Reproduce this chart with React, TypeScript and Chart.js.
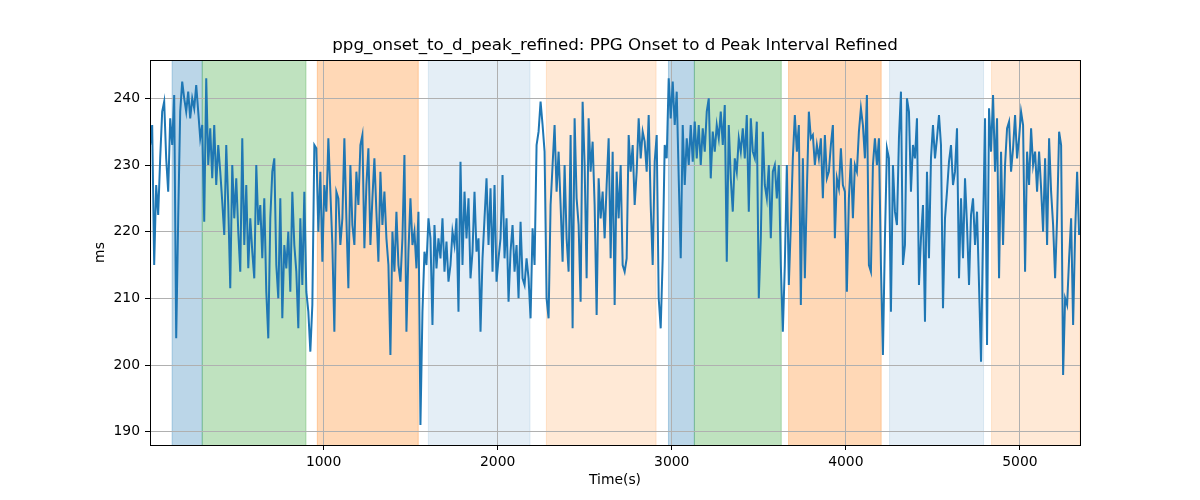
import { useEffect, useRef } from "react"
import { Chart, registerables, type Plugin } from "chart.js"

Chart.register(...registerables)

const FONT = "'DejaVu Sans', sans-serif"
const TITLE = "ppg_onset_to_d_peak_refined: PPG Onset to d Peak Interval Refined"

// sample clock of the series (seconds)
const T0 = 4
const DT = 11.5

// PPG onset to d-peak interval (ms)
const intervalMs = [
  // 0 - 530 s
  233, 236, 215, 227, 222.5, 231, 238, 239.5, 231, 226, 237, 233, 240.5, 204, 222, 238, 242.5, 240, 238, 241,
  237, 240, 238.5, 242, 238, 234, 236, 221.5, 243, 230, 235.5, 228, 236, 227, 233, 229, 224.5, 219.5, 233, 224,
  211.5, 230, 222, 228, 220, 214,
  // 530 - 1080 s
  234, 218, 227, 214.5, 222, 217, 213, 230, 221, 224, 216, 225, 211, 204, 222, 229, 231, 215, 210, 225,
  207, 218, 214.5, 220, 211, 226, 218, 214, 205.5, 222, 212, 226, 211, 208, 202, 209, 233, 232.5, 220, 229,
  215.5, 227, 223, 234, 226, 218, 205, 226,
  // 1080 - 1620 s
  225, 218, 222, 234, 222, 211.5, 230, 221, 218, 229, 224, 233, 234.5, 217.5, 227, 232.5, 218, 225, 231, 223,
  215.5, 229, 221, 226, 219, 215, 201.5, 220, 214, 223, 215, 212.5, 219, 231.5, 205, 217, 225, 218, 220, 214.5,
  223, 191, 208, 217, 215, 222, 219,
  // 1620 - 2170 s
  206, 221, 214.5, 219, 216, 222, 214, 218.5, 212.5, 215, 220, 218, 222, 208, 230.5, 215, 226, 219, 225, 213,
  217, 226, 217, 219, 205, 216, 222, 228, 218, 226.5, 214, 227, 212.5, 216, 219, 228.5, 216, 222, 209.5, 217,
  221, 214, 218, 210, 221.5, 213, 212, 216,
  // 2170 - 2720 s
  213, 207, 220.5, 215, 233, 235, 239.5, 236, 232, 210, 207, 224, 230, 236, 226, 232, 224, 215.5, 230, 219,
  214, 234.5, 205.5, 237, 225, 221, 209.5, 239.5, 230, 213, 237, 229, 233.5, 224, 207.5, 228, 222, 226, 219, 227,
  234, 216, 232, 209, 229, 222, 230, 215,
  // 2720 - 3260 s
  214, 216, 234.5, 229, 233, 224, 229, 237, 231, 235, 233.5, 229, 237.5, 224, 215, 230.5, 234.5, 210, 205.5, 216,
  233, 231, 243, 237, 242.5, 236, 241, 228, 216, 236, 227, 234, 230, 236, 230.5, 236.5, 231, 236, 230, 235.5,
  232, 238, 240, 228, 235, 232, 236,
  // 3260 - 3810 s
  234, 238, 233, 239, 215.5, 236, 228, 223, 231, 229, 234, 232, 235.5, 231, 237.5, 223, 237, 232, 231, 236.5,
  210, 219, 235, 227, 225, 230, 219, 229, 230, 225, 230, 215, 205, 215, 230, 212, 221, 231, 237.5, 232,
  236, 209, 231, 213, 226, 238, 234, 234.5,
  // 3810 - 4350 s
  230, 233, 231, 234, 225, 234.5, 228, 229, 233, 236, 219, 228, 226.5, 232.5, 227, 226, 211, 225, 231, 222,
  230, 229, 235, 238.5, 236, 231, 240.5, 215, 214, 230, 234, 230, 234, 215, 201.5, 219, 232.5, 231, 208, 230,
  223, 221, 234, 241, 215, 218, 240,
  // 4350 - 4900 s
  238, 226, 233, 231, 237, 212, 219, 224, 206.5, 229, 216, 231, 236, 231, 234, 237.5, 233, 208.5, 222, 226,
  230.5, 233, 227, 229, 235.5, 213, 225, 216, 228, 221, 212, 222.5, 225, 218, 223, 212, 200.5, 220, 237, 203,
  238.5, 232, 240.5, 229, 237, 213, 232, 218,
  // 4900 - 5340 s
  230, 235.5, 236.5, 229, 232.5, 237.5, 231, 234, 238, 236, 214, 232, 227, 235.5, 230, 232, 226, 232, 226.5, 220,
  231, 218, 234, 226, 221, 213, 222, 235, 233, 198.5, 210, 209, 216, 222, 206, 220, 229, 219.5,
]

const xTicks = [1000, 2000, 3000, 4000, 5000]
const yTicks = [190, 200, 210, 220, 230, 240]

// shaded phases (seconds)
const spanStarts = [130, 303, 964, 1602, 2280, 2981, 3130, 3671, 4251, 4837]
const spanEnds = [303, 899, 1544, 2186, 2910, 3130, 3629, 4203, 4791, 5345]
const spanColors = [
  "rgba(31,119,180,0.3)",
  "rgba(44,160,44,0.3)",
  "rgba(255,127,14,0.3)",
  "rgba(31,119,180,0.12)",
  "rgba(255,127,14,0.17)",
  "rgba(31,119,180,0.3)",
  "rgba(44,160,44,0.3)",
  "rgba(255,127,14,0.3)",
  "rgba(31,119,180,0.12)",
  "rgba(255,127,14,0.17)",
]

const decorPlugin: Plugin<"line"> = {
  id: "decor",
  beforeDraw(chart) {
    const { ctx, chartArea: a } = chart
    const x = chart.scales.x
    ctx.save()
    ctx.beginPath()
    ctx.rect(a.left, a.top, a.right - a.left, a.bottom - a.top)
    ctx.clip()
    spanStarts.forEach((s, i) => {
      const x0 = x.getPixelForValue(s)
      const x1 = x.getPixelForValue(spanEnds[i])
      ctx.fillStyle = spanColors[i]
      ctx.fillRect(x0, a.top, x1 - x0, a.bottom - a.top)
      ctx.strokeStyle = spanColors[i]
      ctx.lineWidth = 1
      ctx.beginPath()
      ctx.moveTo(x0, a.top)
      ctx.lineTo(x0, a.bottom)
      ctx.moveTo(x1, a.top)
      ctx.lineTo(x1, a.bottom)
      ctx.stroke()
    })
    ctx.restore()
  },
  afterDraw(chart) {
    const { ctx, chartArea: a } = chart
    ctx.save()
    ctx.strokeStyle = "#000"
    ctx.lineWidth = 1
    ctx.strokeRect(Math.round(a.left) + 0.5, Math.round(a.top) + 0.5, Math.round(a.right - a.left), Math.round(a.bottom - a.top))
    ctx.fillStyle = "#000"
    ctx.font = `16.7px ${FONT}`
    ctx.textAlign = "center"
    ctx.textBaseline = "middle"
    ctx.fillText(TITLE, (a.left + a.right) / 2, 46)
    ctx.restore()
  },
}

export default function App() {
  const chartRef = useRef<HTMLCanvasElement>(null)
  const chartInstance = useRef<Chart | null>(null)

  useEffect(() => {
    if (!chartRef.current) return
    if (chartInstance.current) chartInstance.current.destroy()

    const tickFont = { family: FONT, size: 13.9 }

    chartInstance.current = new Chart(chartRef.current, {
      type: "line",
      data: {
        datasets: [
          {
            data: intervalMs.map((v, i) => ({ x: T0 + i * DT, y: v })),
            borderColor: "#1f77b4",
            borderWidth: 2,
            pointRadius: 0,
            tension: 0,
            fill: false,
          },
        ],
      },
      options: {
        animation: false,
        responsive: true,
        maintainAspectRatio: false,
        layout: { padding: { left: 88, right: 120, top: 60, bottom: 7 } },
        plugins: {
          legend: { display: false },
          tooltip: { enabled: false },
        },
        scales: {
          x: {
            type: "linear",
            min: 3,
            max: 5345,
            afterBuildTicks: (s) => {
              s.ticks = xTicks.map((v) => ({ value: v }))
            },
            afterFit: (s) => {
              s.height = 48
            },
            ticks: {
              color: "#000",
              font: tickFont,
              padding: 4,
              maxRotation: 0,
              autoSkip: false,
              callback: (v) => String(v),
            },
            grid: { color: "#b0b0b0", lineWidth: 1, tickLength: 5, tickColor: "#000", tickWidth: 1 },
            border: { display: false },
            title: { display: true, text: "Time(s)", color: "#000", font: tickFont, padding: { top: 4, bottom: 4 } },
          },
          y: {
            type: "linear",
            min: 188,
            max: 245.75,
            afterBuildTicks: (s) => {
              s.ticks = yTicks.map((v) => ({ value: v }))
            },
            afterFit: (s) => {
              s.width = 62
            },
            ticks: {
              color: "#000",
              font: tickFont,
              padding: 5,
              autoSkip: false,
              callback: (v) => String(v),
            },
            grid: { color: "#b0b0b0", lineWidth: 1, tickLength: 5, tickColor: "#000", tickWidth: 1 },
            border: { display: false },
            title: { display: true, text: "ms", color: "#000", font: tickFont, padding: { top: 4, bottom: 4 } },
          },
        },
      },
      plugins: [decorPlugin],
    })

    return () => {
      if (chartInstance.current) {
        chartInstance.current.destroy()
        chartInstance.current = null
      }
    }
  }, [])

  return (
    <div style={{ position: "fixed", left: 0, top: 0, width: 1200, height: 500 }}>
      <canvas ref={chartRef} />
    </div>
  )
}
